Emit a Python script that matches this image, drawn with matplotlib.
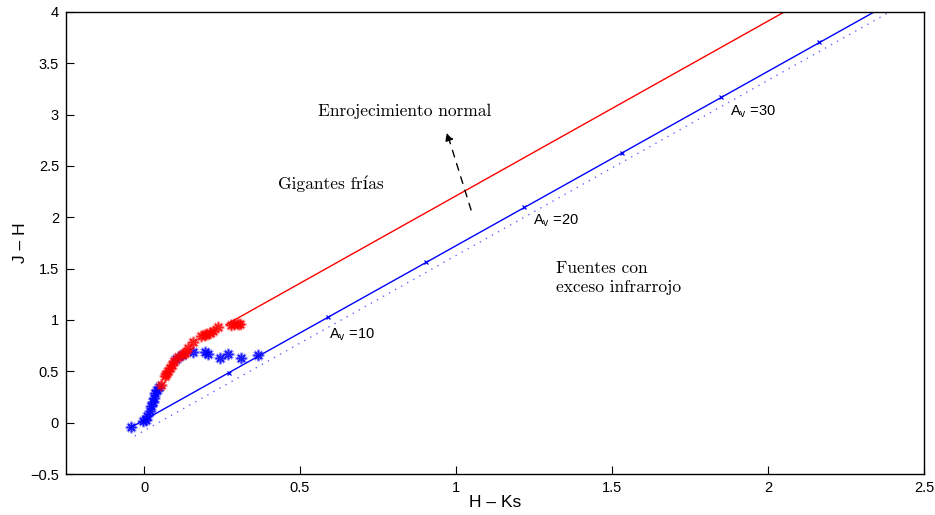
import matplotlib.pyplot as plt
import numpy as np

plt.rcParams['mathtext.fontset'] = 'custom'
plt.rcParams['mathtext.rm'] = 'Liberation Sans'
plt.rcParams['mathtext.it'] = 'Liberation Sans:italic'
plt.rcParams['axes.unicode_minus'] = True

# observed sources
blue_hk = [-0.041, -0.003, 0.005, 0.011, 0.018, 0.023, 0.028, 0.032, 0.036, 0.043,
           0.047, 0.104, 0.123, 0.157, 0.195, 0.205, 0.243, 0.269, 0.312, 0.365]
blue_jh = [-0.045, 0.013, 0.03, 0.06, 0.11, 0.16, 0.20, 0.24, 0.29, 0.32,
           0.35, 0.62, 0.66, 0.69, 0.685, 0.67, 0.63, 0.67, 0.63, 0.66]
red_hk = [0.056, 0.066, 0.072, 0.078, 0.084, 0.09, 0.096, 0.109, 0.125, 0.13, 0.141,
          0.157, 0.184, 0.195, 0.20, 0.21, 0.222, 0.237, 0.28, 0.29, 0.30, 0.307]
red_jh = [0.37, 0.45, 0.47, 0.50, 0.53, 0.56, 0.60, 0.64, 0.67, 0.68, 0.73,
          0.79, 0.84, 0.85, 0.86, 0.87, 0.89, 0.93, 0.955, 0.96, 0.965, 0.965]

# reddening vectors (start / end points)
giant_hk = [0.263, 2.10]
giant_jh = [0.954, 4.08]
dwarf_hk = [-0.044, 2.40]
dwarf_jh = [-0.05, 4.10]
excess_hk = [-0.03, 2.42]
excess_jh = [-0.13, 4.05]

# Av = 5, 10, ... 35 along the dwarf vector
av_values = [5, 10, 15, 20, 25, 30, 35]
av_hk = [0.272, 0.59, 0.904, 1.218, 1.532, 1.849, 2.165]
av_jh = [0.487, 1.028, 1.562, 2.095, 2.63, 3.168, 3.705]

# labelled Av marks
label_av = [10, 20, 30]
label_hk = [0.592, 1.247, 1.878]
label_jh = [0.857, 1.97, 3.03]

fig = plt.figure(figsize=(9.35, 5.15), dpi=100)
ax = fig.add_axes([0.0706, 0.0796, 0.9176, 0.8974])

ax.plot(giant_hk, giant_jh, color='red', lw=1.0)
ax.plot(dwarf_hk, dwarf_jh, color='blue', lw=1.0)
ax.plot(excess_hk, excess_jh, color='blue', lw=1.0, ls=(0, (1, 4)), alpha=0.6)
ax.plot(av_hk, av_jh, ls='none', marker='x', ms=3.5, mew=0.9, color='blue')

star = (8, 2, 0)
for hk, jh, c in [(blue_hk, blue_jh, 'blue'), (red_hk, red_jh, 'red')]:
    ax.plot(hk, jh, ls='none', marker=star, ms=8.5, mew=2.2, color=c, alpha=0.25)
    ax.plot(hk, jh, ls='none', marker=star, ms=7, mew=1.1, color=c, alpha=0.85)

for av, x, y in zip(label_av, label_hk, label_jh):
    ax.text(x, y, r'A$_\mathrm{v}$ =%d' % av, fontsize=10.5,
            family='Liberation Sans', va='center', ha='left')

serif = ['cmr10', 'DejaVu Serif']
ax.text(0.558, 3.03, 'Enrojecimiento normal', fontsize=12.5, family=serif,
        va='center', ha='left')
ax.text(0.43, 2.33, 'Gigantes frías', fontsize=12.5, family=serif,
        va='center', ha='left')
ax.text(1.32, 1.41, 'Fuentes con\nexceso infrarrojo', fontsize=12.5, family=serif,
        va='center', ha='left', linespacing=1.3)

ax.annotate('', xy=(0.968, 2.853), xytext=(1.051, 2.045),
            arrowprops=dict(arrowstyle='-|>', color='black', lw=1.0,
                            ls=(0, (5, 5)), mutation_scale=12))

ax.set_xlim(-0.25, 2.5)
ax.set_ylim(-0.5, 4)
ax.set_xticks([0, 0.5, 1, 1.5, 2, 2.5])
ax.set_yticks(np.arange(-0.5, 4.01, 0.5))
ax.set_xticklabels(['0', '0.5', '1', '1.5', '2', '2.5'])
ax.set_yticklabels(['\u22120.5', '0', '0.5', '1', '1.5', '2', '2.5', '3', '3.5', '4'])
ax.tick_params(direction='in', length=6, width=0.8, labelsize=10.5, pad=5)
for lab in ax.get_xticklabels() + ax.get_yticklabels():
    lab.set_family('Liberation Sans')
for s in ax.spines.values():
    s.set_linewidth(1.0)

ax.set_xlabel('H \u2013 Ks', fontsize=12.5, family='Liberation Sans', labelpad=0)
ax.set_ylabel('J \u2013 H', fontsize=12.5, family='Liberation Sans', labelpad=1.5)

fig.savefig('out.png', dpi=100)
